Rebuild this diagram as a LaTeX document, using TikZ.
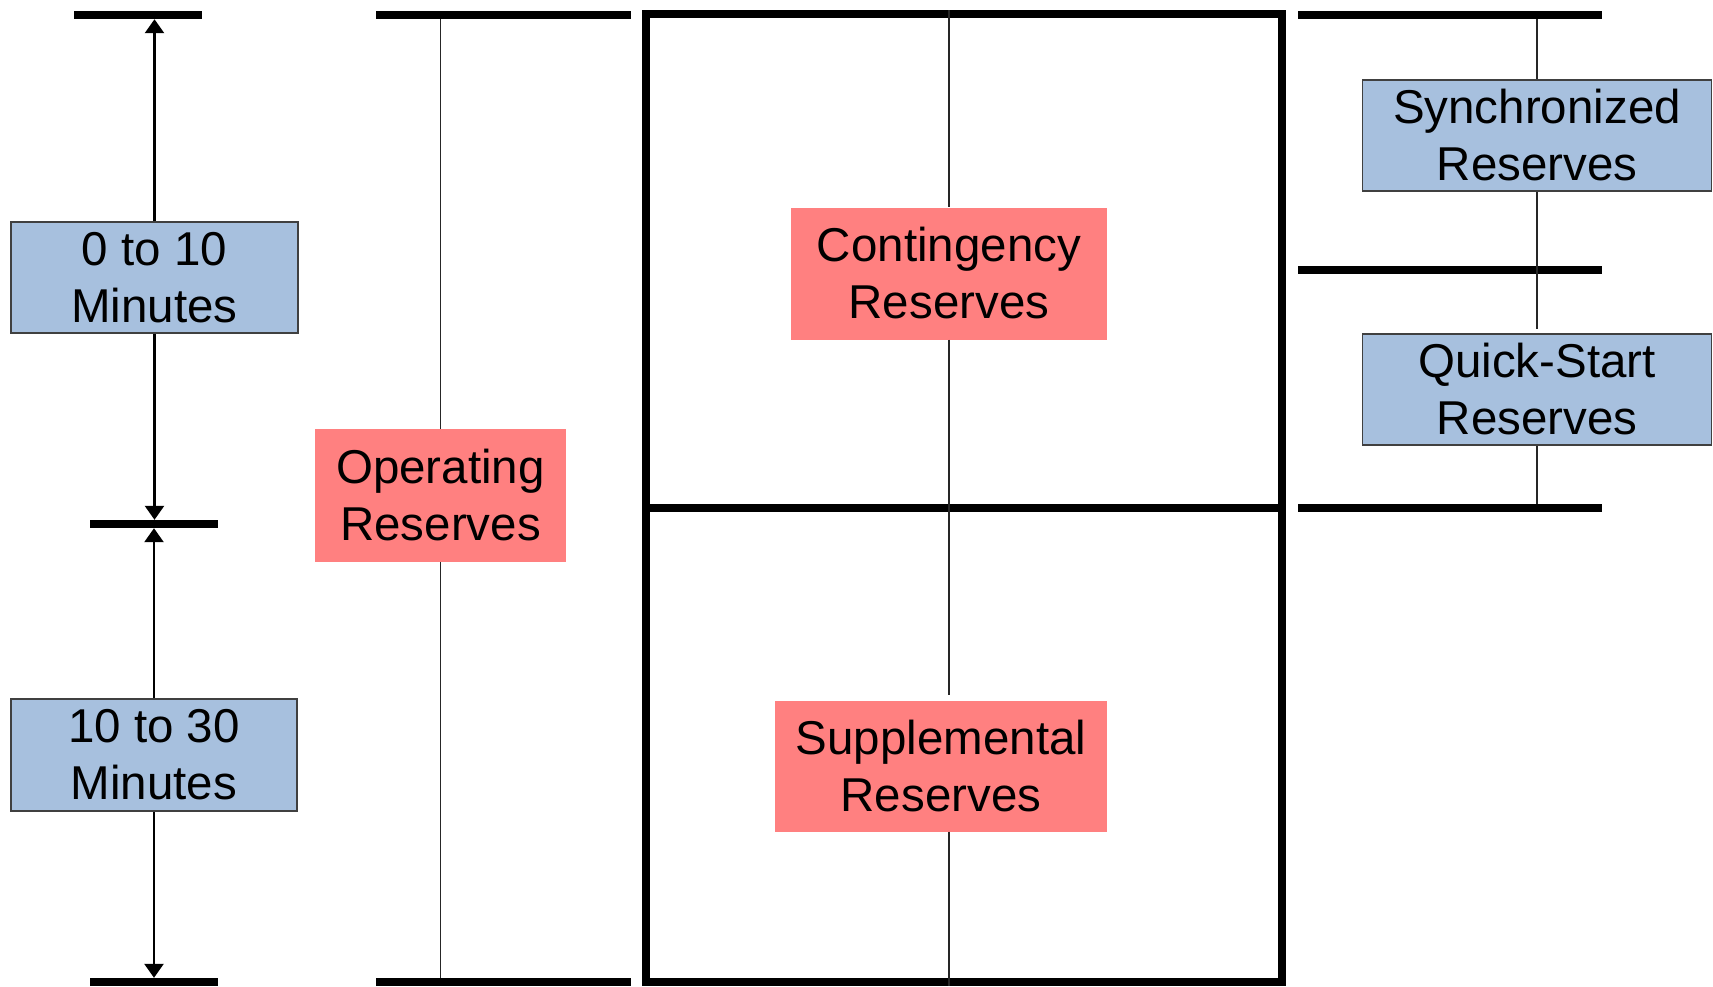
\documentclass[tikz,border=0pt]{standalone}
\usepackage{fontspec}
\setmainfont{Liberation Sans}
\usetikzlibrary{arrows.meta}
\definecolor{bluefill}{HTML}{A7C0DE}
\definecolor{pinkfill}{HTML}{FF8080}
\begin{document}
\begin{tikzpicture}[x=1pt,y=-1pt,
  barnode/.style={fill=black,inner sep=0pt,minimum height=8pt},
  thinline/.style={line width=1.3pt,draw=black!85},
  arrowline/.style={line width=2.5pt,-{Triangle[width=19pt,length=14pt]}},
  boxtext/.style={inner sep=0pt,align=center,font=\fontsize{47.5}{57}\selectfont},
  bluebox/.style={boxtext,fill=bluefill,draw=black!75,line width=1.5pt},
  pinkbox/.style={boxtext,fill=pinkfill}]
\useasboundingbox (0,0) rectangle (1713,986);
% left column
\node[barnode,minimum width=128pt] (lt) at (138,15) {};
\node[barnode,minimum width=128pt] (lm) at (154,524) {};
\node[barnode,minimum width=128pt] (lb) at (154,982) {};
\node[bluebox,minimum width=287pt,minimum height=111pt] (t1) at (154.5,277.5) {0 to 10\\Minutes};
\node[bluebox,minimum width=286pt,minimum height=112pt] (t2) at (154,755) {10 to 30\\Minutes};
\draw[arrowline] (t1.north) -- (t1.north |- lt.south);
\draw[arrowline] (t1.south) -- (t1.south |- lm.north);
\draw[arrowline] (t2.north) -- (t2.north |- lm.south);
\draw[arrowline] (t2.south) -- (t2.south |- lb.north);
% operating column
\node[barnode,minimum width=255pt] (ot) at (503.5,15) {};
\node[barnode,minimum width=255pt] (ob) at (503.5,982) {};
\node[pinkbox,minimum width=251pt,minimum height=133pt] (op) at (440.5,495.5) {Operating\\Reserves};
\draw[thinline] (op.north |- ot.south) -- (op.north);
\draw[thinline] (op.south) -- (op.south |- ob.north);
% big rectangle
\node[draw=black,line width=8pt,inner sep=0pt,minimum width=636pt,minimum height=968pt] (big) at (964,498) {};
\coordinate (midL) at (646,508);
\coordinate (midR) at (1282,508);
\draw[line width=8pt] (midL) -- (midR);
\node[pinkbox,minimum width=316pt,minimum height=132pt] (cont) at (949,273.5) {Contingency\\Reserves};
\node[pinkbox,minimum width=332pt,minimum height=131pt] (supp) at (941,766) {Supplemental\\Reserves};
\coordinate (sgap) at (949,695);
\draw[thinline] (cont |- big.north) -- (cont.north);
\draw[thinline] (cont.south) -- (sgap);
\draw[thinline] (supp.south -| cont) -- (cont |- big.south);
% right column
\node[barnode,minimum width=304pt] (rt) at (1450,15) {};
\node[barnode,minimum width=304pt] (rm) at (1450,269.5) {};
\node[barnode,minimum width=304pt] (rb) at (1450,508) {};
\node[bluebox,minimum width=349pt,minimum height=111pt] (sync) at (1537,135.5) {Synchronized\\Reserves};
\node[bluebox,minimum width=349pt,minimum height=111pt] (quick) at (1537,389.5) {Quick-Start\\Reserves};
\coordinate (qgap) at (1537,329);
\draw[thinline] (sync.north |- rt.south) -- (sync.north);
\draw[thinline] (sync.south) -- (qgap);
\draw[thinline] (quick.south) -- (quick.south |- rb.north);
\end{tikzpicture}
\end{document}
